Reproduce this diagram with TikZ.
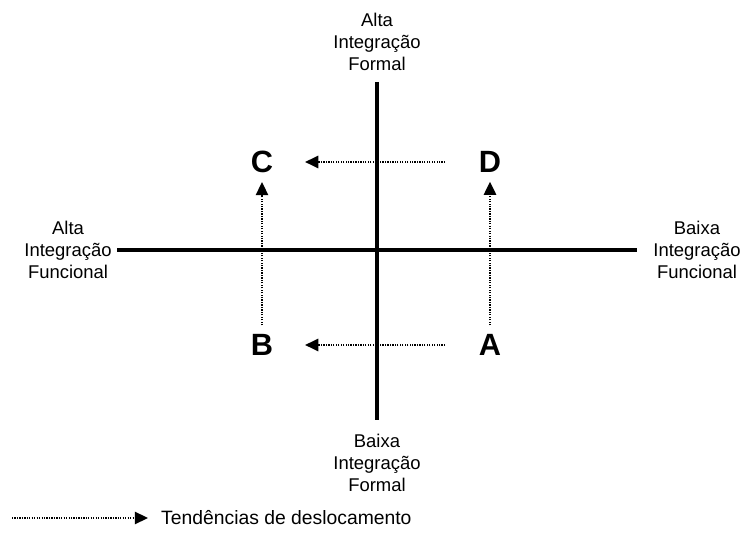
\documentclass[tikz,border=0pt]{standalone}
\usepackage{fontspec}
\setmainfont{Liberation Sans}
\usetikzlibrary{arrows.meta}
\tikzset{
    eixo/.style={line width=2.6pt},
    rotulo/.style={align=center,font=\fontsize{10.5}{12.6}\selectfont},
    letra/.style={font=\fontsize{17.5}{17.5}\selectfont\bfseries,inner sep=1pt},
    tendencia/.style={dash pattern=on 0.7pt off 0.7pt,line width=1.1pt,-{Triangle[length=7.5pt,width=7pt]}}
}
\begin{document}
\begin{tikzpicture}[x=0.02cm,y=-0.02cm]
    \useasboundingbox (0,0) rectangle (744,553);
    % eixos
    \coordinate (esq) at (117,250);
    \coordinate (dir) at (637,250);
    \coordinate (topo) at (377,82);
    \coordinate (base) at (377,420);
    \draw[eixo](esq)--(dir);
    \draw[eixo](topo)--(base);
    \node[rotulo] (altaformal) at (377,42) {Alta\\Integração\\Formal};
    \node[rotulo] (baixaformal) at (377,463) {Baixa\\Integração\\Formal};
    \node[rotulo] (altafunc) at (68,250) {Alta\\Integração\\Funcional};
    \node[rotulo] (baixafunc) at (697,250) {Baixa\\Integração\\Funcional};
    % quadrantes
    \node[letra] (C) at (262,162) {C};
    \node[letra] (D) at (490,162) {D};
    \node[letra] (B) at (262,345) {B};
    \node[letra] (A) at (490,345) {A};
    \draw[tendencia]([xshift=-18pt]D.west)--([xshift=17pt]C.east);
    \draw[tendencia]([xshift=-18pt]A.west)--([xshift=17pt]B.east);
    \draw[tendencia]([yshift=4pt]B.north)--([yshift=-4pt]C.south);
    \draw[tendencia]([yshift=4pt]A.north)--([yshift=-4pt]D.south);
    % legenda
    \coordinate (leg0) at (12,518);
    \node[anchor=west,font=\fontsize{11}{13}\selectfont] (legenda) at (155,518) {Tendências de deslocamento};
    \draw[tendencia](leg0)--([xshift=-4pt]legenda.west);
\end{tikzpicture}
\end{document}
